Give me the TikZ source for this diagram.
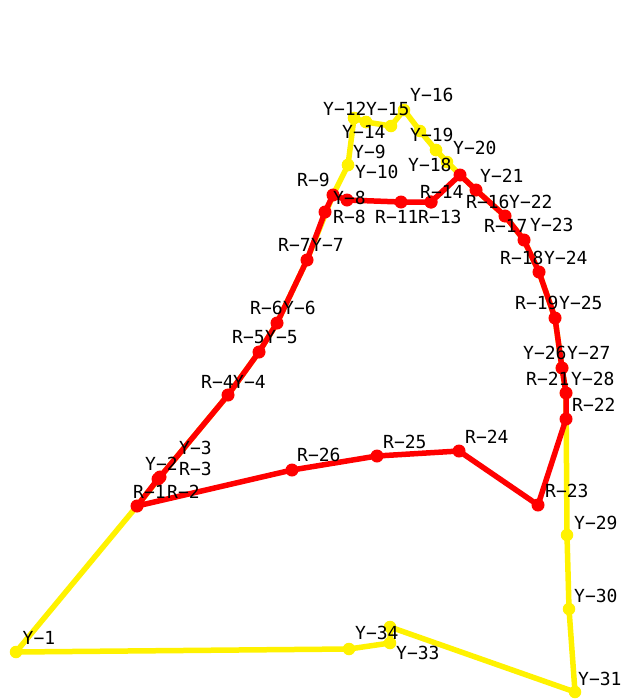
\documentclass[tikz,border=0pt]{standalone}
\usepackage{fontspec}
\setmonofont{DejaVu Sans Mono}

\begin{document}
\begin{tikzpicture}[x=1pt, y=-1pt,
  yline/.style={draw=yellow, line width=5.5pt, line join=round},
  rline/.style={draw=red, line width=5.5pt, line join=round},
  ydot/.style={circle, fill=yellow, inner sep=0pt, minimum size=12.5pt},
  rdot/.style={circle, fill=red, inner sep=0pt, minimum size=13pt},
  ptlabel/.style={anchor=west, inner sep=0pt, text=black,
    font=\ttfamily\fontsize{18}{18}\selectfont}]

\useasboundingbox (0,0) rectangle (623,699);

% ================================================================
% Point positions (pixels, y down)
%   Y: 34 points, closed loop
%   R: 26 points, closed loop
% ================================================================
\foreach \n/\px/\py in {1/16/652, 2/137/506, 3/160/477, 4/228/395,
    5/259/352, 6/277/323, 7/307/260, 8/333/195, 9/348/165, 10/348/165,
    11/354/118, 12/354/118, 13/366/122, 14/366/122, 15/391/126,
    16/404/110, 17/420/131, 18/436/150, 19/436/150, 20/447/162,
    21/476/190, 22/505/216, 23/524/240, 24/539/272, 25/555/318,
    26/562/368, 27/562/368, 28/566/393, 29/567/535, 30/569/609,
    31/575/692, 32/390/627, 33/390/643, 34/349/649}
  \coordinate (y\n) at (\px,\py);

\foreach \n/\px/\py in {1/137/506, 2/158/479, 3/160/477, 4/228/395,
    5/259/352, 6/277/323, 7/307/260, 8/325/212, 9/333/195, 10/347/200,
    11/401/202, 12/431/202, 13/431/202, 14/460/175, 15/476/190,
    16/505/216, 17/524/240, 18/539/272, 19/555/318, 20/562/368,
    21/566/393, 22/566/419, 23/538/505, 24/459/451, 25/377/456,
    26/292/470}
  \coordinate (r\n) at (\px,\py);

% ================================================================
% Y loop
% ================================================================
\draw[yline] (y1) \foreach \n in {2,...,34} { -- (y\n) } -- cycle;
\foreach \n in {1,...,34}
  \node[ydot] (yd\n) at (y\n) {};

% ================================================================
% R loop (on top)
% ================================================================
\draw[rline] (r1) \foreach \n in {2,...,26} { -- (r\n) } -- cycle;
\foreach \n in {1,...,26}
  \node[rdot] (rd\n) at (r\n) {};

% ================================================================
% Labels (left edge, middle)
% ================================================================
\foreach \s/\n/\px/\py in {Y/1/22.5/638, R/1/133/492, R/2/167/492,
    Y/2/145/464, R/3/179/469, Y/3/179/448, R/4/201/382, Y/4/233/382,
    R/5/232/337, Y/5/265/337, R/6/250/308, Y/6/283/308, R/7/278/245,
    Y/7/311/245, R/8/333/217, R/9/297/180, Y/8/333/198, Y/9/353/152,
    Y/10/355/172, Y/12/323/109, Y/15/366/109, Y/16/410/95,
    Y/14/342/132, Y/19/410/135, Y/20/453/148, Y/18/408/165,
    R/11/375/217, R/13/418/217, R/14/420/192, Y/21/480/176,
    R/16/466/202, Y/22/509/202, R/17/484/226, Y/23/530/225,
    R/18/500/258, Y/24/544/258, R/19/515/303, Y/25/559/303,
    Y/26/523/353, Y/27/567/353, R/21/526/379, Y/28/571/379,
    R/22/572/405, R/23/545/491, R/24/465/437, R/25/383/442,
    R/26/297/455, Y/29/574/523, Y/30/574/596, Y/31/578/679,
    Y/34/355/633, Y/33/396/653}
  \node[ptlabel] (lbl\s\n) at (\px,\py) {\s−\n};

\end{tikzpicture}
\end{document}
